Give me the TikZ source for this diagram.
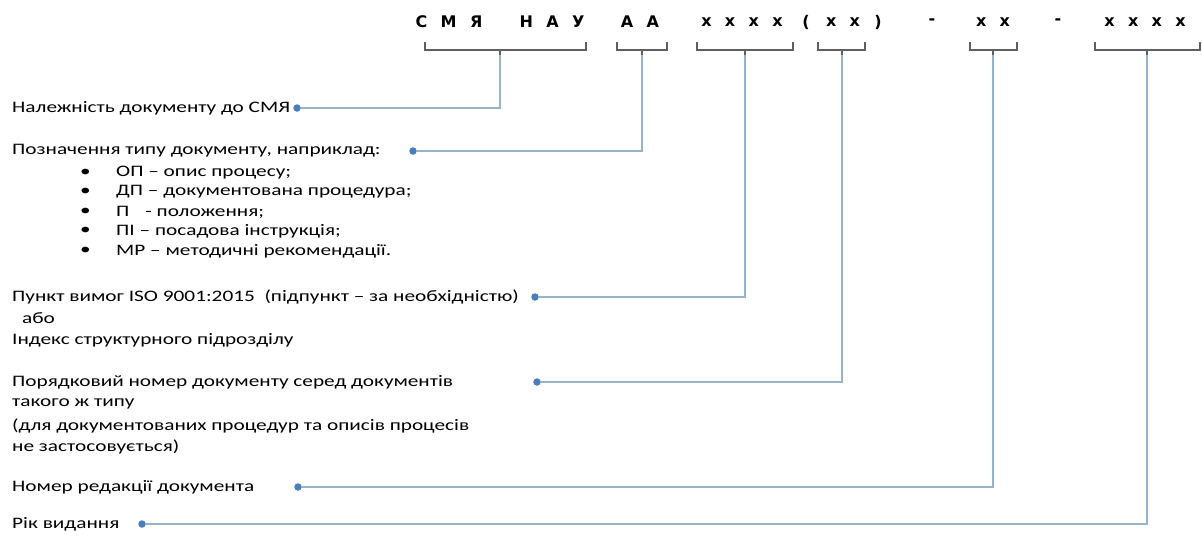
\documentclass[tikz,border=0pt]{standalone}
\usepackage{fontspec}
\setmainfont{Carlito}[FakeStretch=1.33]
\newfontfamily\codefont{DejaVu Sans}[WordSpace=2.4]
\usetikzlibrary{positioning}
\definecolor{linkblue}{RGB}{152,178,200}
\definecolor{dotblue}{RGB}{74,126,187}
\definecolor{bracegray}{RGB}{95,95,95}

\tikzset{
  code/.style={font=\codefont\bfseries\fontsize{16}{18}\selectfont, inner sep=0pt},
  lbl/.style={font=\fontsize{16}{19}\selectfont, inner sep=0pt, anchor=west},
  dot/.style={circle, fill=dotblue, inner sep=0pt, minimum size=7.5pt},
  link/.style={draw=linkblue, line width=1.3pt},
  brace/.style={draw=bracegray, line width=1.2pt},
}
% bracket under a part of the code: left, right, middle, name
\newcommand{\codebrace}[4]{%
  \draw[brace] (#1,42) -- (#1,50) -- (#2,50) -- (#2,42);
  \draw[brace] (#3,50) -- (#3,55);
  \coordinate (#4) at (#3,55);}

\begin{document}
\begin{tikzpicture}[x=1pt,y=-1pt]
\useasboundingbox (0,0) rectangle (1202,536);

% the code
\node[code] (c1) at (449,22) {С М Я};
\node[code] (c2) at (552,22) {Н А У};
\node[code] (c3) at (640,22) {А А};
\node[code] (c4) at (742,22) {x x x x};
\node[code] (c5) at (806,22) {(};
\node[code] (c6) at (843,22) {x x};
\node[code] (c7) at (878,22) {)};
\node[code] (c8) at (932,22) {-};
\node[code] (c9) at (993,22) {x x};
\node[code] (c10) at (1058,22) {-};
\node[code] (c11) at (1145,22) {x x x x};

\codebrace{425}{586}{500}{b1}
\codebrace{617}{667}{642}{b2}
\codebrace{697}{793}{745}{b3}
\codebrace{818}{865}{842}{b4}
\codebrace{970}{1017}{993}{b5}
\codebrace{1095}{1200}{1147}{b6}

% explanations
\node[lbl] (l1) at (12,108) {Належність документу до СМЯ};
\node[dot] (d1) at (297,108) {};

\node[lbl] (l2) at (12,151) {Позначення типу документу, наприклад:};
\node[dot] (d2) at (413,151) {};
\foreach \y/\t [count=\i] in {173/{ОП – опис процесу;},
  192/{ДП – документована процедура;},
  212/{П\quad- положення;},
  231/{ПІ – посадова інструкція;},
  251/{МР – методичні рекомендації.}}{
  \node[lbl] (m\i) at (80,\y) {•};
  \node[lbl] (k\i) at (116,\y) {\t};
}

\node[lbl] (l3) at (12,297) {Пункт вимог ISO 9001:2015\ \ (підпункт – за необхідністю)};
\node[lbl] (l3a) at (22,318) {або};
\node[lbl] (l3b) at (12,340) {Індекс структурного підрозділу};
\node[dot] (d3) at (535,297) {};

\node[lbl] (l4) at (12,382) {Порядковий номер документу серед документів};
\node[lbl] (l4a) at (12,404) {такого ж типу};
\node[lbl] (l4b) at (12,426) {(для документованих процедур та описів процесів};
\node[lbl] (l4c) at (12,447) {не застосовується)};
\node[dot] (d4) at (537,382) {};

\node[lbl] (l5) at (12,487) {Номер редакції документа};
\node[dot] (d5) at (298,487) {};

\node[lbl] (l6) at (12,524) {Рік видання};
\node[dot] (d6) at (142,524) {};

\draw[link] (d1) -| (b1);
\draw[link] (d2) -| (b2);
\draw[link] (d3) -| (b3);
\draw[link] (d4) -| (b4);
\draw[link] (d5) -| (b5);
\draw[link] (d6) -| (b6);

\end{tikzpicture}
\end{document}
